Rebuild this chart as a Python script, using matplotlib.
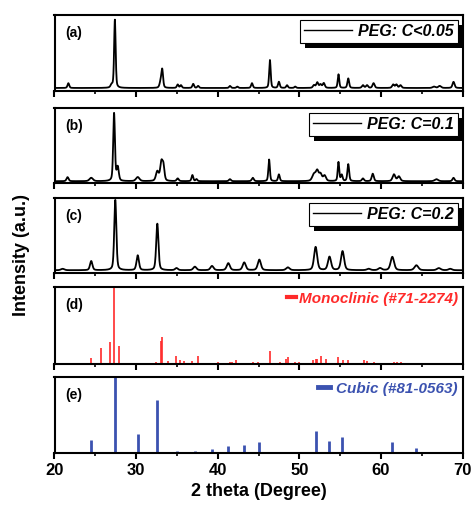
import numpy as np
import matplotlib; matplotlib.use('Agg')
import matplotlib.pyplot as plt
from matplotlib.lines import Line2D
from matplotlib.ticker import MultipleLocator
import matplotlib.patheffects as pe

plt.rcParams.update({
    'font.family': 'Liberation Sans', 'font.weight': 'bold',
    'axes.linewidth': 1.5,
})

# ── peak tables: position (deg), height (% of max), FWHM (deg) ──
a_pos = [21.7, 27.0, 27.4, 33.0, 33.2, 35.1, 35.5, 37.0, 37.6, 41.5, 42.4, 44.2, 46.4, 47.5, 48.5, 49.5,
         51.8, 52.2, 52.6, 53.0, 54.8, 56.0, 57.8, 58.3, 59.1, 61.5, 61.9, 62.4, 66.5, 67.2, 68.9]
a_hgt = [7, 4, 100, 8, 26, 5, 4, 6, 3, 3, 2, 7, 41, 9, 4, 2,
         4, 8, 5, 7, 20, 14, 4, 4, 7, 5, 5, 4, 2, 3, 9]
a_fw = [0.25, 0.3, 0.22, 0.3, 0.25, 0.25, 0.25, 0.25, 0.25, 0.25, 0.25, 0.25, 0.22, 0.25, 0.25, 0.25,
        0.3, 0.3, 0.3, 0.3, 0.22, 0.25, 0.3, 0.3, 0.3, 0.3, 0.3, 0.3, 0.4, 0.4, 0.3]

b_pos = [21.6, 24.5, 27.3, 27.75, 30.2, 32.6, 33.1, 33.35, 35.1, 36.9, 37.4, 41.5, 44.3, 46.3, 47.5,
         51.8, 52.2, 52.6, 53.1, 54.8, 55.2, 56.0, 57.8, 59.0, 61.6, 62.2, 66.8, 68.9]
b_hgt = [6, 5, 100, 20, 6, 14, 27, 20, 4, 9, 3, 3, 5, 32, 10,
         10, 14, 10, 8, 28, 9, 25, 4, 11, 10, 7, 3, 5]
b_fw = [0.3, 0.5, 0.25, 0.3, 0.5, 0.4, 0.35, 0.3, 0.3, 0.25, 0.25, 0.3, 0.3, 0.22, 0.25,
        0.5, 0.4, 0.4, 0.4, 0.22, 0.25, 0.25, 0.3, 0.3, 0.4, 0.4, 0.5, 0.3]

c_pos = [21.0, 24.5, 27.45, 30.2, 32.6, 34.95, 37.2, 39.3, 41.3, 43.25, 45.1, 48.6, 52.0, 53.7, 55.3,
         58.5, 59.9, 61.4, 64.35, 67.1, 68.5]
c_hgt = [2, 13, 100, 21, 66, 3, 5, 6, 10, 11, 15, 4, 33, 19, 27, 2, 3, 19, 7, 3, 2]
c_fw = [0.5, 0.35, 0.3, 0.35, 0.32, 0.4, 0.45, 0.45, 0.45, 0.45, 0.45, 0.5, 0.45, 0.45, 0.45,
        0.5, 0.5, 0.5, 0.55, 0.55, 0.5]

# reference patterns (stick lines)
mono_pos = [21.65, 24.5, 25.7, 26.85, 27.3, 27.95, 32.4, 33.0, 33.2, 33.9, 34.95, 35.35, 35.85, 36.9, 37.6,
            40.05, 41.5, 41.8, 42.3, 44.35, 44.9, 46.35, 47.65, 48.4, 48.6, 49.5, 50.0, 51.7, 52.0, 52.2,
            52.6, 53.3, 54.8, 55.4, 55.95, 57.9, 58.3, 59.1, 61.65, 62.0, 62.5, 63.7, 66.5, 66.9, 68.0, 68.7]
mono_int = [1.7, 7.3, 21, 29, 100, 23, 3, 30, 35, 4, 11, 5, 4, 4, 10,
            3, 2, 2, 5, 2, 3, 17, 2, 6, 9, 3, 3, 5, 6, 6,
            11, 7, 9, 5, 5, 5, 4, 3, 2, 2, 2, 1.5, 1.5, 1.5, 1.5, 1.5]

cub_pos = [21.2, 24.5, 27.45, 30.2, 32.6, 35.0, 37.2, 39.3, 41.3, 43.25, 45.1, 48.6, 52.0, 53.65, 55.25,
           59.85, 61.4, 64.35, 65.6, 67.1]
cub_int = [1.3, 16.5, 100, 24.8, 69.6, 2.6, 3, 4.8, 9.6, 10.9, 14.3, 1.7, 29, 15.2, 20.9,
           0.9, 14.8, 7, 1, 1.3]

labels = ['PEG: C<0.05', 'PEG: C=0.1', 'PEG: C=0.2']
mono_label = 'Monoclinic (#71-2274)'
cub_label = 'Cubic (#81-0563)'
RED = '#ff2a2a'
BLUE = '#3b52b0'

tt = np.arange(20, 70.001, 0.02)


def profile(pos, hgt, fw):
    y = np.zeros_like(tt)
    for p, h, w in zip(pos, hgt, fw):
        g = np.exp(-4 * np.log(2) * ((tt - p) / w) ** 2)
        l = 1 / (1 + ((tt - p) / (w / 2)) ** 2)
        y += h * (0.6 * g + 0.4 * l)
    return y


def sax(ax):
    ax.set_xlim(20, 70)
    ax.xaxis.set_major_locator(MultipleLocator(10))
    ax.xaxis.set_minor_locator(MultipleLocator(5))
    ax.tick_params(axis='x', which='major', direction='out', length=4, width=1.5, labelsize=12)
    ax.tick_params(axis='x', which='minor', direction='out', length=2.5, width=1.2)
    ax.set_yticks([])
    ax.tick_params(axis='x', labelbottom=False)


fig = plt.figure(figsize=(4.75, 5.11), dpi=100)
fig.patch.set_facecolor('white')
L, W = 54.5 / 475, 408 / 475
# (top, bottom) in pixels for panels a-e
rows = [(15, 91), (108, 183), (198, 273), (287, 364), (377, 453)]
axs = [fig.add_axes([L, 1 - b / 511, W, (b - t) / 511]) for t, b in rows]

curves = [(a_pos, a_hgt, a_fw), (b_pos, b_hgt, b_fw), (c_pos, c_hgt, c_fw)]
ylims = [(-4.4, 107), (-2.6, 108), (-3.9, 102.5)]
for i in range(3):
    ax = axs[i]
    ax.plot(tt, profile(*curves[i]), color='black', lw=1.3)
    ax.set_ylim(*ylims[i])
    leg = ax.legend([Line2D([], [], color='black', lw=1.0)], [labels[i]], loc='upper right',
                    fancybox=False, edgecolor='black', framealpha=1, handlelength=3.0,
                    handletextpad=0.4, borderpad=0.25, borderaxespad=0.3,
                    prop={'size': 11.5, 'weight': 'bold', 'style': 'italic'})
    fr = leg.get_frame()
    fr.set_linewidth(0.8)
    fr.set_path_effects([pe.SimplePatchShadow(offset=(4, -3.5), shadow_rgbFace='black', alpha=1.0),
                         pe.Normal()])
    sax(ax)

ax = axs[3]
ax.vlines(mono_pos, 0, mono_int, color=RED, lw=1.2)
ax.set_ylim(0, 100)
ax.legend([Line2D([], [], color=RED, lw=3)], [mono_label], loc='upper right', frameon=False,
          handlelength=0.55, handletextpad=0.2, borderpad=0.2, borderaxespad=0.1,
          labelcolor=RED, prop={'size': 11, 'weight': 'bold', 'style': 'italic'})
sax(ax)

ax = axs[4]
ax.vlines(cub_pos, 0, cub_int, color=BLUE, lw=2.0)
ax.set_ylim(0, 100)
ax.legend([Line2D([], [], color=BLUE, lw=3.5)], [cub_label], loc='upper right', frameon=False,
          handlelength=0.8, handletextpad=0.4, borderpad=0.2, borderaxespad=0.1,
          labelcolor=BLUE, prop={'size': 11, 'weight': 'bold', 'style': 'italic'})
sax(ax)
ax.tick_params(axis='x', labelbottom=True)
ax.set_xlabel('2 theta (Degree)', fontsize=13, fontweight='bold', labelpad=3)

for ax, tag in zip(axs, ['(a)', '(b)', '(c)', '(d)', '(e)']):
    ax.text(0.026, 0.76, tag, transform=ax.transAxes, ha='left', va='center', fontsize=10, fontweight='bold')

fig.text(22 / 475, 1 - 255 / 511, 'Intensity (a.u.)', rotation=90, ha='center', va='center',
         fontsize=13, fontweight='bold')

fig.savefig('out.png', dpi=100, facecolor='white')
